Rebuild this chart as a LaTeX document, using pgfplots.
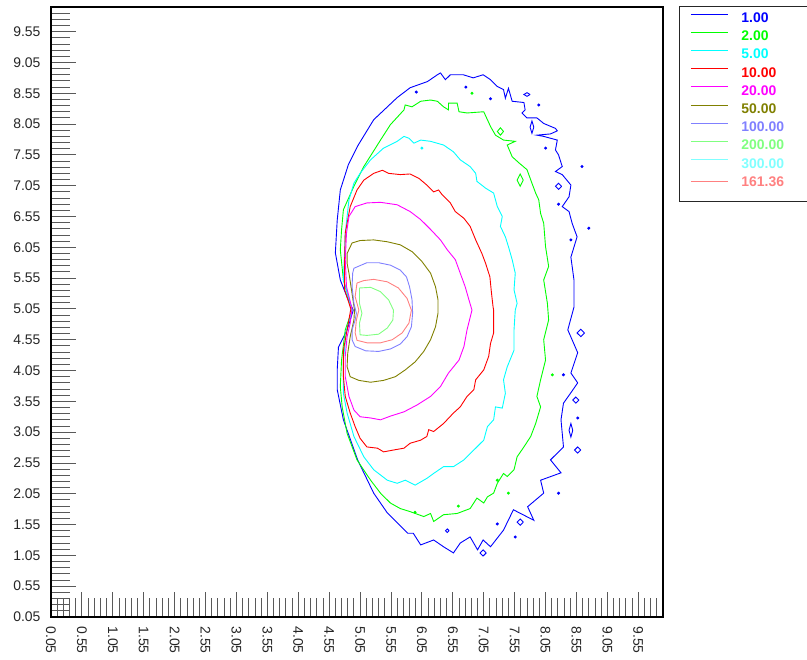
\documentclass[border=0pt]{standalone}
\usepackage{pgfplots}
\pgfplotsset{compat=1.18}
\usepackage{fontspec}
\setmainfont{Liberation Sans}

\definecolor{c1}{RGB}{0,0,255}
\definecolor{c2}{RGB}{0,255,0}
\definecolor{c5}{RGB}{0,255,255}
\definecolor{c10}{RGB}{255,0,0}
\definecolor{c20}{RGB}{255,0,255}
\definecolor{c50}{RGB}{128,128,0}
\definecolor{c100}{RGB}{128,128,255}
\definecolor{c200}{RGB}{128,255,128}
\definecolor{c300}{RGB}{128,255,255}
\definecolor{c161}{RGB}{255,128,128}

% legend text: gap after the line, fixed width, coloured like the level
\newcommand{\leg}[2]{\hspace*{13bp}\makebox[55bp][l]{\textcolor{#1}{#2}}}

\begin{document}
\begin{tikzpicture}
\useasboundingbox (-51bp,-43bp) rectangle (756bp,617bp);
\begin{axis}[
  scale only axis,
  width=612bp, height=610bp,
  xmin=0.05, xmax=9.95, ymin=0.05, ymax=9.95,
  xtick={0.05,0.55,...,9.6}, ytick={0.05,0.55,...,9.6},
  minor xtick={0.15,0.25,...,9.96}, minor ytick={0.15,0.25,...,9.96},
  tick pos=left,
  tick align=inside,
  major tick length=24.5bp, minor tick length=18.5bp,
  tick style={black!65, line width=0.9bp},
  axis line style={black, line width=1.6bp},
  xticklabel style={rotate=-90, anchor=west},
  yticklabel style={anchor=east},
  xticklabel shift=6bp, yticklabel shift=7bp,
  tick label style={font=\fontsize{14}{16}\selectfont, text=black!85},
  /pgf/number format/.cd, fixed, fixed zerofill, precision=2, assume math mode=true,
  /pgfplots/.cd,
  every axis plot/.append style={line width=0.9bp},
  legend image code/.code={\draw[#1, line width=0.9bp] (0bp,4.5bp) -- (37bp,4.5bp);},
  legend style={at={(1,1)}, anchor=north west, xshift=16bp, yshift=1bp,
    draw=black!85, line width=1bp, inner xsep=11bp, inner ysep=5bp, row sep=4.2bp,
    font=\fontsize{14}{16}\selectfont\bfseries,
    nodes={inner ysep=0pt, inner xsep=0pt, text height=11bp, text depth=3bp}},
  legend cell align=left,
]
% level 1.00
\addplot[c1] coordinates {
(4.94,5.03) (4.84,5.24) (4.73,5.52) (4.65,5.96) (4.68,6.49) (4.73,6.98) (4.86,7.39)
(5.02,7.71) (5.27,8.12) (5.65,8.48) (5.86,8.64) (6.14,8.74) (6.30,8.85) (6.35,8.88)
(6.43,8.77) (6.51,8.85) (6.72,8.85) (6.88,8.80) (7.04,8.85) (7.16,8.77) (7.27,8.66)
(7.37,8.61) (7.40,8.47) (7.45,8.63) (7.51,8.42) (7.70,8.40) (7.72,8.28) (7.67,8.23)
(7.75,8.15) (7.91,8.15) (8.02,8.06) (8.21,7.98) (8.24,7.94) (8.13,7.89) (7.91,7.87)
(8.02,7.85) (8.24,7.79) (8.21,7.63) (8.26,7.55) (8.32,7.36) (8.21,7.28) (8.32,7.23)
(8.46,7.06) (8.43,6.87) (8.32,6.71) (8.43,6.63) (8.48,6.44) (8.56,6.22) (8.46,5.89)
(8.51,5.52) (8.51,5.08) (8.41,4.71) (8.57,4.34) (8.46,4.01) (8.57,3.85) (8.46,3.69)
(8.34,3.52) (8.30,3.25) (8.34,2.81) (8.13,2.60) (8.30,2.39) (7.97,2.27) (8.02,2.06)
(7.76,1.84) (7.86,1.62) (7.53,1.79) (7.37,1.46) (7.16,1.19) (7.04,1.30) (6.95,1.14)
(6.83,1.35) (6.67,1.25) (6.56,1.09) (6.40,1.19) (6.24,1.30) (6.03,1.22) (5.91,1.41)
(5.82,1.41) (5.65,1.58) (5.49,1.74) (5.27,2.06) (5.01,2.60) (4.78,3.25) (4.68,3.74)
(4.68,4.06) (4.70,4.43) (4.84,4.71) (4.94,5.03)};
\addlegendentry{\leg{c1}{1.00}}
% level 2.00
\addplot[c2] coordinates {
(4.92,5.03) (4.78,5.52) (4.73,6.01) (4.75,6.33) (4.78,6.66) (4.95,7.04) (5.11,7.36)
(5.38,7.79) (5.54,8.04) (5.76,8.28) (5.78,8.36) (5.89,8.33) (6.03,8.42) (6.19,8.44)
(6.30,8.42) (6.40,8.33) (6.48,8.28) (6.48,8.39) (6.62,8.39) (6.65,8.25) (6.78,8.23)
(7.05,8.25) (7.11,8.12) (7.16,8.01) (7.24,7.87) (7.37,7.79) (7.56,7.77) (7.43,7.71)
(7.51,7.52) (7.62,7.42) (7.75,7.31) (7.83,7.09) (7.89,6.93) (7.94,6.82) (7.97,6.60)
(8.02,6.44) (8.05,6.06) (8.10,5.74) (8.02,5.52) (8.08,5.14) (8.10,4.87) (8.02,4.55)
(8.05,4.22) (7.97,3.90) (7.91,3.63) (7.97,3.46) (7.89,3.19) (7.81,2.98) (7.70,2.81)
(7.59,2.65) (7.54,2.44) (7.43,2.33) (7.37,2.38) (7.27,2.22) (7.21,2.06) (7.11,2.00)
(7.05,1.90) (6.94,1.98) (6.83,1.81) (6.62,1.73) (6.40,1.71) (6.24,1.60) (6.19,1.73)
(6.08,1.68) (5.86,1.76) (5.70,1.81) (5.54,1.90) (5.38,2.06) (5.22,2.27) (5.00,2.60)
(4.84,3.03) (4.76,3.46) (4.73,3.79) (4.75,4.22) (4.81,4.71) (4.92,5.03)};
\addlegendentry{\leg{c2}{2.00}}
% level 5.00
\addplot[c5] coordinates {
(4.92,5.03) (4.78,5.52) (4.81,6.28) (4.87,6.82) (4.95,7.09) (5.05,7.25) (5.22,7.47)
(5.43,7.66) (5.65,7.77) (5.76,7.85) (5.84,7.82) (5.92,7.74) (6.03,7.79) (6.19,7.77)
(6.40,7.71) (6.56,7.60) (6.67,7.47) (6.83,7.36) (6.92,7.25) (6.94,7.12) (7.08,7.01)
(7.21,6.93) (7.27,6.71) (7.35,6.55) (7.32,6.39) (7.40,6.22) (7.45,6.06) (7.51,5.85)
(7.56,5.63) (7.54,5.36) (7.59,5.14) (7.56,5.03) (7.54,4.71) (7.54,4.38) (7.43,4.11)
(7.37,3.90) (7.40,3.68) (7.35,3.44) (7.24,3.46) (7.21,3.25) (7.11,3.14) (7.05,2.92)
(6.89,2.76) (6.73,2.60) (6.56,2.49) (6.40,2.49) (6.24,2.38) (6.13,2.30) (5.94,2.19)
(5.78,2.27) (5.65,2.22) (5.49,2.27) (5.27,2.44) (5.11,2.65) (4.95,2.98) (4.84,3.36)
(4.78,3.68) (4.78,4.22) (4.83,4.71) (4.92,5.03)};
\addlegendentry{\leg{c5}{5.00}}
% level 10.00
\addplot[c10] coordinates {
(4.90,5.05) (4.80,5.36) (4.80,5.85) (4.81,6.28) (4.89,6.71) (5.00,6.98) (5.11,7.14)
(5.27,7.25) (5.41,7.30) (5.51,7.25) (5.70,7.23) (5.86,7.24) (6.00,7.17) (6.13,7.06)
(6.24,6.95) (6.32,6.98) (6.38,6.90) (6.51,6.77) (6.59,6.63) (6.73,6.52) (6.83,6.39)
(6.92,6.17) (7.02,5.95) (7.08,5.79) (7.15,5.57) (7.17,5.36) (7.20,5.09) (7.21,5.03)
(7.21,4.66) (7.16,4.49) (7.13,4.28) (7.05,4.06) (6.92,3.90) (6.89,3.74) (6.78,3.63)
(6.67,3.46) (6.56,3.36) (6.40,3.19) (6.24,3.06) (6.16,3.09) (6.13,2.98) (6.03,2.92)
(5.86,2.87) (5.76,2.79) (5.59,2.76) (5.43,2.73) (5.33,2.79) (5.16,2.81) (5.05,2.95)
(4.97,3.14) (4.89,3.36) (4.81,3.63) (4.78,3.95) (4.78,4.38) (4.84,4.71) (4.90,5.05)};
\addlegendentry{\leg{c10}{10.00}}
% level 20.00
\addplot[c20] coordinates {
(4.92,5.05) (4.83,5.41) (4.81,5.85) (4.83,6.28) (4.87,6.55) (4.97,6.71) (5.16,6.77)
(5.38,6.78) (5.65,6.74) (5.86,6.63) (6.03,6.50) (6.19,6.34) (6.35,6.17) (6.46,6.01)
(6.59,5.85) (6.67,5.63) (6.75,5.41) (6.81,5.20) (6.86,5.03) (6.78,4.71) (6.73,4.44)
(6.65,4.22) (6.48,4.01) (6.35,3.79) (6.19,3.63) (5.97,3.49) (5.76,3.38) (5.54,3.31)
(5.38,3.25) (5.22,3.28) (5.05,3.30) (4.95,3.41) (4.87,3.63) (4.81,3.95) (4.81,4.28)
(4.84,4.60) (4.89,4.82) (4.92,5.05)};
\addlegendentry{\leg{c20}{20.00}}
% level 50.00
\addplot[c50] coordinates {
(4.84,5.95) (4.92,6.12) (5.05,6.16) (5.27,6.17) (5.49,6.14) (5.70,6.09) (5.89,5.98)
(6.05,5.82) (6.19,5.63) (6.27,5.41) (6.31,5.20) (6.31,4.98) (6.27,4.76) (6.19,4.55)
(6.08,4.36) (5.94,4.19) (5.78,4.06) (5.62,3.95) (5.43,3.89) (5.22,3.86) (5.03,3.89)
(4.89,3.95) (4.84,4.11) (4.85,4.33) (4.89,4.60) (4.95,4.87) (4.96,5.03) (4.92,5.30)
(4.87,5.63) (4.84,5.79) (4.84,5.95)};
\addlegendentry{\leg{c50}{50.00}}
% level 100.00
\addplot[c100] coordinates {
(4.95,5.71) (5.16,5.80) (5.35,5.80) (5.54,5.76) (5.70,5.68) (5.80,5.57) (5.85,5.41)
(5.89,5.20) (5.90,4.98) (5.88,4.76) (5.81,4.60) (5.70,4.48) (5.54,4.40) (5.35,4.36)
(5.14,4.37) (4.97,4.44) (4.92,4.55) (4.92,4.71) (4.97,4.87) (4.99,4.98) (4.95,5.14)
(4.92,5.41) (4.93,5.63) (4.95,5.71)};
\addlegendentry{\leg{c100}{100.00}}
% level 200.00
\addplot[c200] coordinates {
(5.04,5.39) (5.22,5.40) (5.38,5.33) (5.51,5.20) (5.59,5.03) (5.58,4.87) (5.49,4.74)
(5.35,4.64) (5.16,4.62) (5.05,4.63) (5.04,4.82) (5.08,4.98) (5.04,5.14) (5.04,5.39)};
\addlegendentry{\leg{c200}{200.00}}
% level 300.00 (no contour in range)
\addlegendimage{c300}
\addlegendentry{\leg{c300}{300.00}}
% level 161.36
\addplot[c161] coordinates {
(5.00,5.47) (5.11,5.51) (5.27,5.53) (5.49,5.49) (5.67,5.39) (5.81,5.22) (5.88,5.03)
(5.84,4.82) (5.73,4.66) (5.57,4.55) (5.38,4.50) (5.16,4.50) (5.00,4.54) (4.97,4.66)
(4.99,4.87) (5.03,5.03) (4.97,5.25) (5.00,5.47)};
\addlegendentry[text depth=10bp]{\leg{c161}{161.36}}

% small closed islands
\addplot[c1, forget plot] coordinates {(7.09,1.09) (7.04,1.14) (6.99,1.09) (7.04,1.04) (7.09,1.09)};
\addplot[c1, forget plot] coordinates {(7.80,8.53) (7.75,8.56) (7.70,8.53) (7.75,8.50) (7.80,8.53)};
\addplot[c1, forget plot] coordinates {(7.86,8.00) (7.83,8.10) (7.80,8.00) (7.83,7.90) (7.86,8.00)};
\addplot[c1, forget plot] coordinates {(8.31,7.04) (8.26,7.09) (8.21,7.04) (8.26,6.99) (8.31,7.04)};
\addplot[c1, forget plot] coordinates {(8.68,4.66) (8.62,4.72) (8.56,4.66) (8.62,4.60) (8.68,4.66)};
\addplot[c1, forget plot] coordinates {(8.59,3.57) (8.54,3.62) (8.49,3.57) (8.54,3.52) (8.59,3.57)};
\addplot[c1, forget plot] coordinates {(8.49,3.08) (8.46,3.19) (8.43,3.08) (8.46,2.97) (8.49,3.08)};
\addplot[c1, forget plot] coordinates {(8.62,2.76) (8.57,2.81) (8.52,2.76) (8.57,2.71) (8.62,2.76)};
\addplot[c1, forget plot] coordinates {(7.69,1.59) (7.64,1.64) (7.59,1.59) (7.64,1.54) (7.69,1.59)};
\addplot[c1, forget plot] coordinates {(6.49,1.45) (6.46,1.48) (6.43,1.45) (6.46,1.42) (6.49,1.45)};
\addplot[c2, forget plot] coordinates {(7.37,7.93) (7.32,7.99) (7.27,7.93) (7.32,7.87) (7.37,7.93)};
\addplot[c2, forget plot] coordinates {(7.69,7.14) (7.64,7.24) (7.59,7.14) (7.64,7.04) (7.69,7.14)};
% isolated single-cell dots
\addplot[c1, forget plot, only marks, mark=*, mark size=1bp] coordinates {
(7.94,8.36) (8.05,7.66) (6.76,8.65) (7.16,8.46) (5.96,8.57) (8.64,7.36) (8.75,6.36)
(8.46,6.17) (8.34,3.98) (8.57,3.28) (8.26,2.06) (7.56,1.35) (7.27,1.56) (8.26,6.75)};
\addplot[c2, forget plot, only marks, mark=*, mark size=1bp] coordinates {
(6.86,8.55) (7.45,2.06) (7.27,2.27) (6.64,1.85) (5.94,1.75) (8.16,3.98)};
\addplot[c5, forget plot, only marks, mark=*, mark size=1bp] coordinates {(6.05,7.66)};
\end{axis}
\end{tikzpicture}
\end{document}
